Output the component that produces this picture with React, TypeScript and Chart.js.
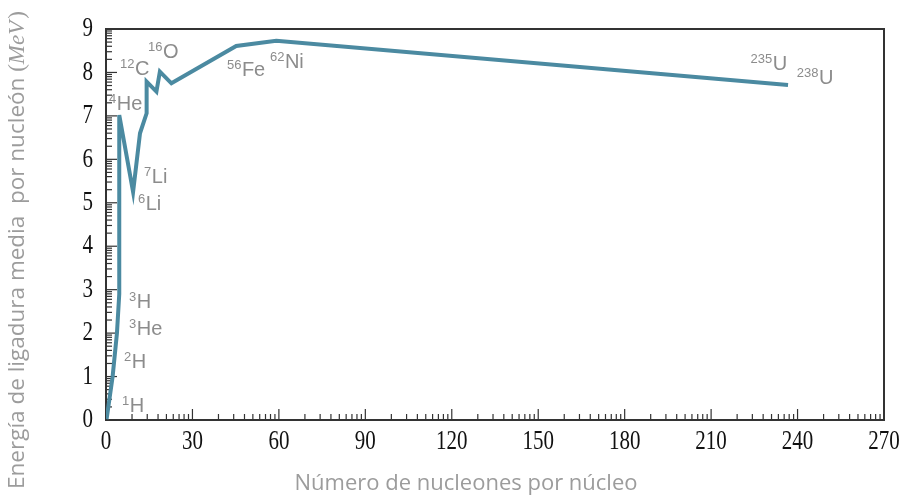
import { useEffect, useRef } from 'react';
import { Chart, registerables } from 'chart.js';

Chart.register(...registerables);

// Curve of average binding energy per nucleon
const massNumbers = [0.2, 2.3, 3.8, 4.6, 4.6, 9.4, 11.8, 14.1, 14.1, 17.5, 18.7, 22.7, 45.2, 59.1, 236.7];
const bindingEnergy = [0.02, 1.0, 2.0, 2.9, 7.02, 5.25, 6.6, 7.06, 7.79, 7.56, 8.02, 7.75, 8.61, 8.73, 7.71];

// Axis ticks
const xTickValues = [0, 30, 60, 90, 120, 150, 180, 210, 240, 270];
const yTickValues = [0, 1, 2, 3, 4, 5, 6, 7, 8, 9];

// Isotope annotations (left edge in A, baseline in MeV)
const isotopeMass = ['1', '2', '3', '3', '6', '7', '4', '12', '16', '56', '62', '235', '238'];
const isotopeSymbol = ['H', 'H', 'He', 'H', 'Li', 'Li', 'He', 'C', 'O', 'Fe', 'Ni', 'U', 'U'];
const labelA = [5.55, 6.24, 7.98, 7.98, 11.1, 13.2, 1.04, 4.86, 14.57, 41.97, 56.9, 223.7, 239.7];
const labelE = [0.18, 1.2, 1.96, 2.58, 4.83, 5.46, 7.14, 7.94, 8.33, 7.92, 8.1, 8.06, 7.73];

const xTitle = 'Número de nucleones por núcleo';
const yTitleText = 'Energía de ligadura media  por nucleón ';
const yTitleUnit = 'MeV';

const LINE_COLOR = '#4b8aa1';
const AXIS_COLOR = '#333333';
const TEXT_GRAY = '#8c8c8c';
const TITLE_GRAY = '#9c9c9c';
const TICK_FONT = '21px "Liberation Serif", serif';
const TICK_STRETCH = 1.3;

const decorPlugin = {
  id: 'decor',
  beforeDatasetsDraw(chart: any) {
    const { ctx, chartArea, scales } = chart;
    const xs = scales.x;
    const ys = scales.y;
    ctx.save();
    ctx.strokeStyle = AXIS_COLOR;
    ctx.lineWidth = 1.2;
    // x minor/major ticks (log pattern in each interval)
    for (let n = 0; n < xTickValues.length; n++) {
      const base = xTickValues[n];
      const px = xs.getPixelForValue(base);
      ctx.beginPath();
      ctx.moveTo(px, chartArea.bottom);
      ctx.lineTo(px, chartArea.bottom - 11);
      ctx.stroke();
      if (n < xTickValues.length - 1) {
        const step = xTickValues[n + 1] - base;
        for (let k = 2; k <= 9; k++) {
          const v = base + step * Math.log10(k);
          const p = xs.getPixelForValue(v);
          ctx.beginPath();
          ctx.moveTo(p, chartArea.bottom);
          ctx.lineTo(p, chartArea.bottom - 6);
          ctx.stroke();
        }
      }
    }
    for (let n = 0; n < yTickValues.length; n++) {
      const base = yTickValues[n];
      const py = ys.getPixelForValue(base);
      ctx.beginPath();
      ctx.moveTo(chartArea.left, py);
      ctx.lineTo(chartArea.left + 11, py);
      ctx.stroke();
      if (n < yTickValues.length - 1) {
        const step = yTickValues[n + 1] - base;
        for (let k = 2; k <= 9; k++) {
          const v = base + step * Math.log10(k);
          const p = ys.getPixelForValue(v);
          ctx.beginPath();
          ctx.moveTo(chartArea.left, p);
          ctx.lineTo(chartArea.left + 6, p);
          ctx.stroke();
        }
      }
    }
    // frame top & right
    ctx.lineWidth = 2;
    ctx.beginPath();
    ctx.moveTo(chartArea.left, chartArea.top);
    ctx.lineTo(chartArea.right, chartArea.top);
    ctx.lineTo(chartArea.right, chartArea.bottom);
    ctx.stroke();
    ctx.restore();
  },
  afterDraw(chart: any) {
    const { ctx, scales, chartArea } = chart;
    const xs = scales.x;
    const ys = scales.y;
    ctx.save();
    // tick labels (serif, slightly tall like the reference)
    ctx.fillStyle = '#111';
    ctx.font = TICK_FONT;
    ctx.textBaseline = 'middle';
    ctx.textAlign = 'right';
    for (const v of yTickValues) {
      const py = ys.getPixelForValue(v);
      ctx.save();
      ctx.translate(chartArea.left - 13, py);
      ctx.scale(1, TICK_STRETCH);
      ctx.fillText(String(v), 0, 0);
      ctx.restore();
    }
    ctx.textAlign = 'center';
    for (const v of xTickValues) {
      const px = xs.getPixelForValue(v);
      ctx.save();
      ctx.translate(px, chartArea.bottom + 22);
      ctx.scale(1, TICK_STRETCH);
      ctx.fillText(String(v), 0, 0);
      ctx.restore();
    }
    // isotope labels
    ctx.fillStyle = TEXT_GRAY;
    ctx.textBaseline = 'alphabetic';
    ctx.textAlign = 'left';
    for (let i = 0; i < isotopeMass.length; i++) {
      const px = xs.getPixelForValue(labelA[i]);
      const py = ys.getPixelForValue(labelE[i]);
      ctx.font = '13px "Liberation Sans", Arial, sans-serif';
      ctx.fillText(isotopeMass[i], px, py - 7);
      const w = ctx.measureText(isotopeMass[i]).width;
      ctx.font = '20px "Liberation Sans", Arial, sans-serif';
      ctx.fillText(isotopeSymbol[i], px + w + 0.5, py);
    }
    // x title
    ctx.fillStyle = TITLE_GRAY;
    ctx.font = '22px "Open Sans", sans-serif';
    ctx.textAlign = 'center';
    ctx.textBaseline = 'middle';
    ctx.fillText(xTitle, (chartArea.left + chartArea.right) / 2 - 29, 484);
    // y title (mixed fonts)
    ctx.translate(18, 250);
    ctx.rotate(-Math.PI / 2);
    ctx.textAlign = 'left';
    const f1 = '22.5px "Open Sans", sans-serif';
    const fUp = '23px "Liberation Serif", serif';
    const fIt = 'italic 23px "Liberation Serif", serif';
    ctx.font = f1;
    const w1 = ctx.measureText(yTitleText).width;
    ctx.font = fUp;
    const wp = ctx.measureText('(').width;
    const wq = ctx.measureText(')').width;
    ctx.font = fIt;
    const wu = ctx.measureText(yTitleUnit).width;
    const total = w1 + wp + wu + wq + 2;
    let x = -total / 2;
    ctx.font = f1;
    ctx.fillText(yTitleText, x, 0);
    x += w1;
    ctx.font = fUp;
    ctx.fillText('(', x, 0);
    x += wp;
    ctx.font = fIt;
    ctx.fillText(yTitleUnit, x, 0);
    x += wu + 2;
    ctx.font = fUp;
    ctx.fillText(')', x, 0);
    ctx.restore();
  },
};

export default function App() {
  const canvasRef = useRef<HTMLCanvasElement | null>(null);

  useEffect(() => {
    const canvas = canvasRef.current;
    if (!canvas) return;
    const points = massNumbers.map((a, i) => ({ x: a, y: bindingEnergy[i] }));
    const chart = new Chart(canvas, {
      type: 'scatter',
      data: {
        datasets: [
          {
            data: points,
            showLine: true,
            borderColor: LINE_COLOR,
            backgroundColor: LINE_COLOR,
            borderWidth: 4,
            borderJoinStyle: 'miter',
            borderCapStyle: 'butt',
            pointRadius: 0,
            tension: 0,
          } as any,
        ],
      },
      options: {
        responsive: false,
        animation: false,
        events: [],
        layout: { padding: { left: 0, right: 23, top: 29, bottom: 0 } },
        plugins: {
          legend: { display: false },
          tooltip: { enabled: false },
          title: { display: false },
        },
        scales: {
          x: {
            type: 'linear',
            min: 0,
            max: 270,
            afterBuildTicks: (scale: any) => {
              scale.ticks = xTickValues.map((v) => ({ value: v }));
            },
            afterFit: (scale: any) => {
              scale.height = 80;
            },
            grid: { display: false, drawTicks: false },
            border: { display: true, color: AXIS_COLOR, width: 2 },
            ticks: { display: false },
          },
          y: {
            type: 'linear',
            min: 0,
            max: 9,
            afterBuildTicks: (scale: any) => {
              scale.ticks = yTickValues.map((v) => ({ value: v }));
            },
            afterFit: (scale: any) => {
              scale.width = 106;
            },
            grid: { display: false, drawTicks: false },
            border: { display: true, color: AXIS_COLOR, width: 2 },
            ticks: { display: false },
          },
        },
      },
      plugins: [decorPlugin],
    });
    return () => chart.destroy();
  }, []);

  return (
    <div style={{ position: 'fixed', left: 0, top: 0, width: 907, height: 500, background: '#fff' }}>
      <canvas ref={canvasRef} width={907} height={500} style={{ display: 'block' }} />
    </div>
  );
}
